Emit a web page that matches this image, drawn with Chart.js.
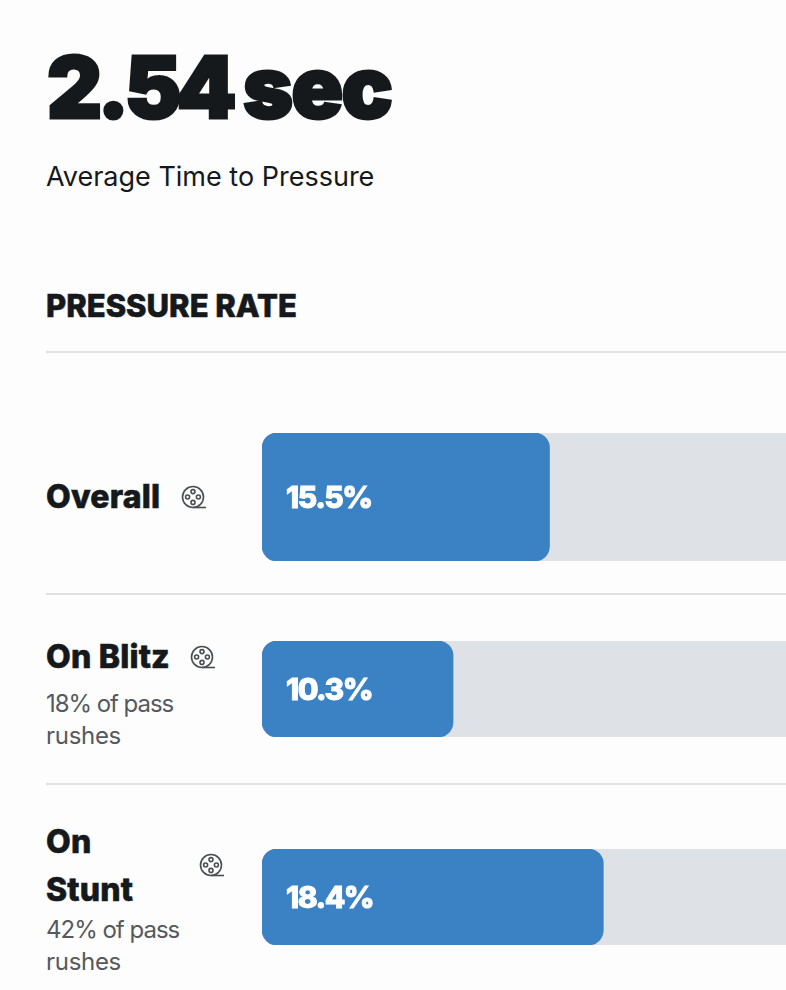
<!DOCTYPE html>
<html><head><meta charset="utf-8">
<script src="https://cdn.jsdelivr.net/npm/chart.js@4"></script>
<style>
html,body{margin:0;padding:0;width:786px;height:990px;overflow:hidden;background:#fdfdfd;color:#16191c;font-family:Inter,sans-serif}
.t{position:absolute;white-space:nowrap;line-height:1}
.rule{position:absolute;left:46px;width:740px;height:2px;background:#e0e3e6}
canvas{position:absolute;left:262px}
svg{position:absolute}
</style></head><body>
<div class="t" style="left:47px;top:45px;font-size:85px;font-weight:900;letter-spacing:-4.5px;-webkit-text-stroke:3px #16191c">2.54</div>
<div class="t" style="left:243px;top:45px;font-size:85px;font-weight:900;letter-spacing:-1.5px;-webkit-text-stroke:3px #16191c">sec</div>
<div class="t" style="left:46px;top:163px;font-size:27px;font-weight:400">Average Time to Pressure</div>
<div class="t" style="left:46px;top:290px;font-size:31px;font-weight:800;letter-spacing:0;-webkit-text-stroke:.6px #16191c">PRESSURE RATE</div>
<div class="rule" style="top:351px"></div>
<div class="rule" style="top:593px"></div>
<div class="rule" style="top:783px"></div>
<div id="rows"></div>
<script>
const categories = ['Overall', 'On Blitz', 'On Stunt'];
const pressureRates = [15.5, 10.3, 18.4];
const trackValues = [100, 100, 100];
const subLabels = ['', '18% of pass rushes', '42% of pass rushes'];
const axisMax = 28.25;

const barTops = [433, 641, 849];
const barHeights = [128, 96, 96];
const labelLines = [
  [['Overall', 46, 481]],
  [['On Blitz', 46, 641]],
  [['On', 46, 826], ['Stunt', 46, 874]]
];
const subLines = [
  [],
  [['18% of pass', 46, 692, -1.05], ['rushes', 46, 724, -.3]],
  [['42% of pass', 46, 918, -1], ['rushes', 46, 950, -.3]]
];
const iconPos = [[181, 485], [190, 645], [199, 853]];
const rows = document.getElementById('rows');

function addText(text, x, y, style) {
  const d = document.createElement('div');
  d.className = 't';
  d.textContent = text;
  d.style.cssText = `left:${x}px;top:${y}px;${style}`;
  rows.appendChild(d);
}
function addIcon(x, y) {
  rows.insertAdjacentHTML('beforeend',
    `<svg style="left:${x}px;top:${y}px" width="26" height="26" viewBox="0 0 26 26" fill="none" stroke="#4a4e53" stroke-width="1.6">
      <circle cx="12" cy="12" r="10.5"/>
      <circle cx="12" cy="6.6" r="2"/><circle cx="12" cy="17.4" r="2"/>
      <circle cx="6.6" cy="12" r="2"/><circle cx="17.4" cy="12" r="2"/>
      <path d="M12 22.5H25"/></svg>`);
}
const valueLabel = {
  id: 'valueLabel',
  afterDatasetsDraw(chart) {
    const g = chart.ctx, el = chart.getDatasetMeta(1).data[0];
    const text = chart.data.datasets[1].data[0].toFixed(1) + '%';
    g.save();
    g.fillStyle = '#ffffff';
    g.strokeStyle = '#ffffff';
    g.lineWidth = .9;
    g.font = '800 30px Inter, sans-serif';
    g.textBaseline = 'middle';
    g.letterSpacing = '-1.5px';
    g.fillText(text, 24, el.y + 2);
    g.strokeText(text, 24, el.y + 2);
    g.restore();
  }
};

categories.forEach((cat, i) => {
  labelLines[i].forEach(l => addText(l[0], l[1], l[2], 'font-size:32px;font-weight:800;letter-spacing:.2px;-webkit-text-stroke:.6px #16191c'));
  subLines[i].forEach(l => addText(l[0], l[1], l[2], `font-size:24px;font-weight:400;color:#55595e;letter-spacing:${l[3]}px`));
  addIcon(iconPos[i][0], iconPos[i][1]);
  const c = document.createElement('canvas');
  c.style.top = barTops[i] + 'px';
  c.style.width = '524px';
  c.style.height = barHeights[i] + 'px';
  c.width = 524; c.height = barHeights[i];
  rows.appendChild(c);
  new Chart(c, {
    type: 'bar',
    data: {
      labels: [cat],
      datasets: [
        { label: 'Scale', data: [trackValues[i]], backgroundColor: '#dee1e6', borderRadius: 15, borderSkipped: false, order: 2 },
        { label: 'Pressure rate', data: [pressureRates[i]], backgroundColor: '#3b82c4', borderRadius: 15, borderSkipped: false, order: 1 }
      ]
    },
    options: {
      indexAxis: 'y', responsive: false, animation: false,
      layout: { padding: 0 },
      datasets: { bar: { grouped: false, barPercentage: 1, categoryPercentage: 1 } },
      scales: {
        x: { display: false, min: 0, max: axisMax },
        y: { display: false }
      },
      plugins: { legend: { display: false }, tooltip: { enabled: false } }
    },
    plugins: [valueLabel]
  });
});
</script>
</body></html>
